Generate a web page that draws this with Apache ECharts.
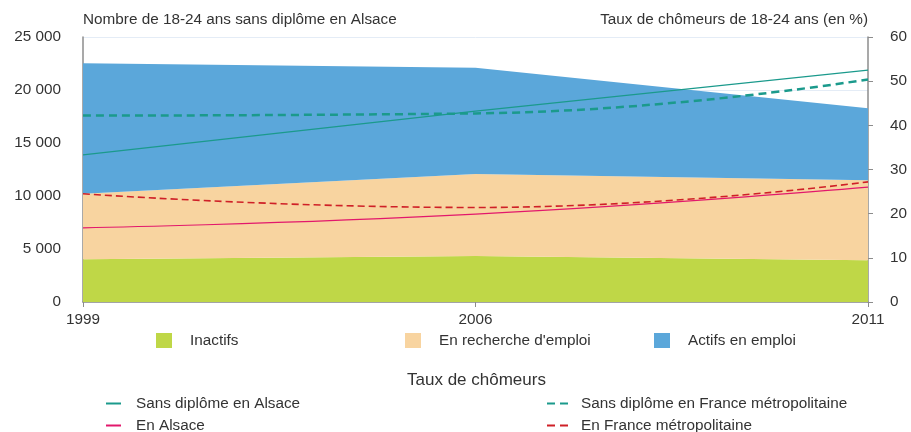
<!DOCTYPE html>
<html>
<head>
<meta charset="utf-8">
<script src="https://cdn.jsdelivr.net/npm/echarts@6/dist/echarts.min.js"></script>
<style>
  html, body { margin: 0; padding: 0; background: #fff; }
  #chart { width: 911px; height: 432px; }
</style>
</head>
<body>
<div id="chart"></div>
<script>
// données
const years = ['1999', '2006', '2011'];
const inactifs = [4030, 4340, 3930];
const recherche = [6190, 7740, 7550];
const actifsEmploi = [12300, 10020, 6790];
// taux de chômeurs (en %)
const sansDiplomeAlsace = [33.3, 43.2, 52.5];
const sansDiplomeFrance = [42.2, 42.7, 50.4];
const tauxAlsace = [16.8, 19.9, 26.0];
const tauxFrance = [24.5, 21.4, 27.2];

const FONT = "'Liberation Sans', Arial, sans-serif";
const FS = 15.3;
const TXT = '#333';
const SOLID = 'path://M0,0 L15,0 L15,2 L0,2 Z';
const DASHED = 'path://M0,0 L8,0 L8,2 L0,2 Z M13,0 L21,0 L21,2 L13,2 Z';

const chart = echarts.init(document.getElementById('chart'));

function thousands(v) {
    return String(v).replace(/\B(?=(\d{3})+(?!\d))/g, ' ');
}

function areaSerie(name, data, color) {
    return {
        name: name,
        type: 'line',
        stack: 'total',
        data: data,
        symbol: 'none',
        lineStyle: { width: 0 },
        areaStyle: { color: color, opacity: 1 },
        itemStyle: { color: color },
        emphasis: { disabled: true }
    };
}

function lineSerie(name, data, color, width, type) {
    return {
        name: name,
        type: 'line',
        yAxisIndex: 1,
        data: data,
        smooth: 0.5,
        symbol: 'none',
        lineStyle: { color: color, width: width, type: type },
        itemStyle: { color: color },
        emphasis: { disabled: true },
        z: 5
    };
}

// une légende par élément pour les placer comme sur l'original
function areaLegend(name, left) {
    return {
        data: [name],
        left: left,
        top: 333,
        padding: 0,
        icon: 'rect',
        itemWidth: 16,
        itemHeight: 15,
        selectedMode: false,
        textStyle: { fontFamily: FONT, fontSize: FS, color: TXT, padding: [0, 0, 0, 13] }
    };
}

function lineLegend(name, icon, width, left, top, gap) {
    return {
        data: [name],
        left: left,
        top: top,
        padding: 0,
        icon: icon,
        itemWidth: width,
        itemHeight: 2,
        selectedMode: false,
        textStyle: { fontFamily: FONT, fontSize: FS, color: TXT, padding: [0, 0, 0, gap] }
    };
}

chart.setOption({
    animation: false,
    backgroundColor: '#fff',
    textStyle: { fontFamily: FONT },
    title: {
        text: 'Taux de chômeurs',
        left: 407,
        top: 372,
        padding: 0,
        textStyle: { fontFamily: FONT, fontSize: 17, fontWeight: 'normal', color: TXT }
    },
    legend: [
        areaLegend('Inactifs', 156),
        areaLegend("En recherche d'emploi", 405),
        areaLegend('Actifs en emploi', 654),
        lineLegend('Sans diplôme en Alsace', SOLID, 15, 106, 396, 10),
        lineLegend('En Alsace', SOLID, 15, 106, 418, 10),
        lineLegend('Sans diplôme en France métropolitaine', DASHED, 21, 547, 396, 8),
        lineLegend('En France métropolitaine', DASHED, 21, 547, 418, 8)
    ],
    grid: { left: 83, right: 43, top: 37, bottom: 130 },
    xAxis: {
        type: 'category',
        data: years,
        boundaryGap: false,
        axisLine: { lineStyle: { color: '#8c8c8c', width: 1.5 } },
        axisTick: { show: true, length: 5, lineStyle: { color: '#8c8c8c' } },
        axisLabel: { fontFamily: FONT, fontSize: FS, color: TXT, margin: 10 }
    },
    yAxis: [
        {
            type: 'value',
            min: 0,
            max: 25000,
            interval: 5000,
            name: 'Nombre de 18-24 ans sans diplôme en Alsace',
            nameLocation: 'end',
            nameGap: 10,
            nameTextStyle: { fontFamily: FONT, fontSize: FS, color: TXT, align: 'left' },
            axisLine: { show: true, lineStyle: { color: '#8c8c8c', width: 1.5 } },
            axisTick: { show: false },
            axisLabel: { fontFamily: FONT, fontSize: FS, color: TXT, margin: 22, formatter: thousands },
            splitLine: { show: true, lineStyle: { color: '#e4ecf6' } }
        },
        {
            type: 'value',
            min: 0,
            max: 60,
            interval: 10,
            name: 'Taux de chômeurs de 18-24 ans (en %)',
            nameLocation: 'end',
            nameGap: 10,
            nameTextStyle: { fontFamily: FONT, fontSize: FS, color: TXT, align: 'right' },
            axisLine: { show: true, lineStyle: { color: '#8c8c8c', width: 1.5 } },
            axisTick: { show: true, length: 5, lineStyle: { color: '#8c8c8c' } },
            axisLabel: { fontFamily: FONT, fontSize: FS, color: TXT, margin: 22 },
            splitLine: { show: false }
        }
    ],
    series: [
        areaSerie('Inactifs', inactifs, '#bfd747'),
        areaSerie("En recherche d'emploi", recherche, '#f8d4a0'),
        areaSerie('Actifs en emploi', actifsEmploi, '#5ba7da'),
        lineSerie('Sans diplôme en Alsace', sansDiplomeAlsace, '#1b9a8c', 1.2, 'solid'),
        lineSerie('Sans diplôme en France métropolitaine', sansDiplomeFrance, '#1b9a8c', 2.5, [8, 5]),
        lineSerie('En Alsace', tauxAlsace, '#e2186c', 1.2, 'solid'),
        lineSerie('En France métropolitaine', tauxFrance, '#cf2027', 1.6, [7, 4])
    ]
});
</script>
</body>
</html>
